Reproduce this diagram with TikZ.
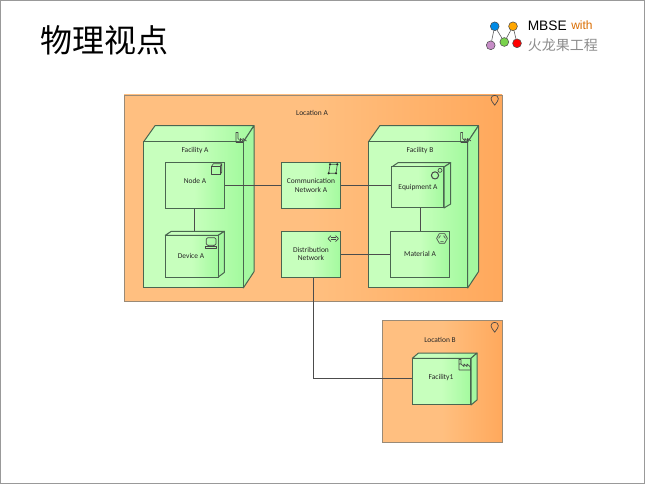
\documentclass[tikz,border=0pt]{standalone}
\usepackage{fontspec}
\setmainfont{Carlito}
\newfontfamily\cjkfont{Noto Sans CJK SC}
\newfontfamily\logofont{Liberation Sans}
\pgfdeclarehorizontalshading{orangeface}{100bp}{rgb(0bp)=(1,.75,.5); rgb(50bp)=(1,.75,.5); rgb(75bp)=(1,.66,.36); rgb(100bp)=(1,.66,.36)}
\pgfdeclarehorizontalshading{greenface}{100bp}{rgb(0bp)=(.78,1,.74); rgb(50bp)=(.78,1,.74); rgb(75bp)=(.64,.98,.62); rgb(100bp)=(.64,.98,.62)}
\definecolor{edgeC}{HTML}{4A6650}
\definecolor{sideC}{HTML}{A4F8A0}
\definecolor{orangeEdge}{HTML}{9A8A76}
\tikzset{
  x=0.75pt,y=-0.75pt,
  site/.style={rectangle,draw=orangeEdge,line width=0.6pt,inner sep=0pt,shade,shading=orangeface},
  face/.style={rectangle,draw=edgeC,line width=0.75pt,inner sep=0pt,shade,shading=greenface},
  depth/.style={draw=edgeC,line width=0.75pt,fill=sideC,line join=round},
  topface/.style={draw=edgeC,line width=0.75pt,shade,shading=greenface,line join=round},
  wire/.style={draw=black!70,line width=0.6pt},
  glyph/.style={draw=black!72,line width=0.5pt,line join=round},
  caption/.style={inner sep=0pt,align=center,font=\fontsize{5.6}{6.3}\selectfont,text=black!85},
  dot/.style={circle,draw=black!70,line width=0.4pt,inner sep=0pt,minimum size=6.6pt},
  link/.style={draw=black!65,line width=0.45pt},
}
\begin{document}
\begin{tikzpicture}
\useasboundingbox (0,0) rectangle (645,484);
\draw[black!40,line width=0.75pt] (0.5,0.5) rectangle (644.5,483.5);

% title and logo
\node[inner sep=0pt,font=\cjkfont\fontsize{24}{24}\selectfont] (title) at (104,40) {物理视点};
\node[dot,fill=blue!40!cyan!90!black] (lb) at (494.7,26.3) {};
\node[dot,fill=orange!70!yellow] (ly) at (513,26.3) {};
\node[dot,fill=violet!45!white] (lp) at (490.7,45.3) {};
\node[dot,fill=green!50!olive!70!white] (lg) at (504.3,42) {};
\node[dot,fill=red] (lr) at (517,43.3) {};
\draw[link] (lp) -- (lb);\draw[link] (lb) -- (lg);\draw[link] (lg) -- (ly);\draw[link] (ly) -- (lr);
\node[anchor=west,inner sep=0pt,font=\logofont\fontsize{10.3}{12}\selectfont] (mbse) at (527.5,25.7) {MBSE};
\node[anchor=west,inner sep=0pt,font=\logofont\fontsize{9}{12}\selectfont,text=orange!85!black] (with) at (571,25.7) {with};
\node[anchor=west,inner sep=0pt,font=\cjkfont\fontsize{10.5}{12}\selectfont,text=black!45] (huolong) at (527.5,45.5) {火龙果工程};

% locations
\node[site,minimum width=283.5pt,minimum height=154.5pt] (locA) at (313,198) {};
\node[site,minimum width=89.75pt,minimum height=91.5pt] (locB) at (442.15,381.15) {};
\draw[glyph] (494.7,105.2) .. controls (492.5,102) and (491,100.5) .. (491,98.8) .. controls (491,94.2) and (498.4,94.2) .. (498.4,98.8) .. controls (498.4,100.5) and (496.9,102) .. (494.7,105.2) -- cycle;
\draw[glyph] (494.7,332.2) .. controls (492.5,329) and (491,327.5) .. (491,325.8) .. controls (491,321.2) and (498.4,321.2) .. (498.4,325.8) .. controls (498.4,327.5) and (496.9,329) .. (494.7,332.2) -- cycle;

% facility A
\draw[topface] (143.5,142) -- (155,125.7) -- (254,125.7) -- (243.3,142) -- cycle;
\draw[depth] (243.3,142) -- (254,125.7) -- (254,271.7) -- (243.3,288) -- cycle;
\node[face,minimum width=74.85pt,minimum height=109.5pt] (facA) at (193.4,215) {};
% facility B
\draw[topface] (368.3,142) -- (379.8,125.7) -- (478.5,125.7) -- (467.7,142) -- cycle;
\draw[depth] (467.7,142) -- (478.5,125.7) -- (478.5,271.7) -- (467.7,288) -- cycle;
\node[face,minimum width=74.55pt,minimum height=109.5pt] (facB) at (418,215) {};
% facility 1
\draw[topface] (412.3,358.3) -- (418.5,353) -- (477,353) -- (471,358.3) -- cycle;
\draw[depth] (471,358.3) -- (477,353) -- (477,400) -- (471,405) -- cycle;
\node[face,minimum width=44pt,minimum height=35pt] (fac1) at (441.65,381.65) {};

% Node A, Device A
\node[face,minimum width=44.25pt,minimum height=34pt] (nodeA) at (194.8,185.35) {};
\draw[topface] (165.3,235.3) -- (171.3,231.3) -- (224.3,231.3) -- (218.3,235.3) -- cycle;
\draw[depth] (218.3,235.3) -- (224.3,231.3) -- (224.3,272.5) -- (218.3,277) -- cycle;
\node[face,minimum width=39.75pt,minimum height=31.3pt] (device) at (191.8,256.15) {};

% networks
\node[face,minimum width=44.25pt,minimum height=34pt] (comm) at (311.2,185.35) {};
\node[face,minimum width=44.25pt,minimum height=34.3pt] (dist) at (311.2,254.15) {};

% Equipment, Material
\draw[topface] (391.7,167) -- (398,162.7) -- (450.7,162.7) -- (444,167) -- cycle;
\draw[depth] (444,167) -- (450.7,162.7) -- (450.7,204) -- (444,208) -- cycle;
\node[face,minimum width=39.2pt,minimum height=30.75pt] (equip) at (417.85,187.5) {};
\node[face,minimum width=44pt,minimum height=34.3pt] (mat) at (420,254.15) {};

% connectors
\draw[wire] (nodeA.east) -- (comm.west);
\draw[wire] (comm.east) -- (comm.east -| equip.west);
\draw[wire] (dist.east) -- (mat.west);
\draw[wire] (nodeA.south) -- ([yshift=3pt]nodeA.south |- device.north);
\draw[wire] (mat.north) -- (mat.north |- equip.south);
\draw[wire] ([xshift=1.35pt]dist.south) |- ([yshift=2.5pt]fac1.west);

% facility icons
\draw[glyph] (236,142.5) -- (236,132.5) -- (238,132.5) -- (238,138.5) -- (240.5,141) -- (240.5,138.5) -- (243,141) -- (243,138.5) -- (246.5,141);
\draw[glyph] (236,142.5) -- (243.3,142.5);
\draw[glyph] (460.6,142.5) -- (460.6,132.5) -- (462.6,132.5) -- (462.6,138.5) -- (465,141) -- (465,138.5) -- (467.5,141) -- (467.5,138.5) -- (471,141);
\draw[glyph] (460.6,142.5) -- (467.7,142.5);
\draw[glyph] (459,370) -- (459,359) (459,359.5) -- (461,359.5) -- (461,364) -- (464,366.5) -- (464,364) -- (467,366.5) -- (467,364) -- (470,366.5) -- (470.6,370) -- (459,370) (459,364) -- (461,364);
% Node icon
\draw[glyph] (211.7,166.3) rectangle (220.3,174.7);
\draw[glyph] (211.7,166.3) -- (213.3,163.7) -- (221.8,163.7) -- (220.3,166.3) (221.8,163.7) -- (221.8,172) -- (220.3,174.7);
% Device icon
\draw[glyph,rounded corners=1pt] (206.3,237.8) rectangle (216,245.3);
\draw[glyph] (209,245.3) -- (208,246.3) (213.5,245.3) -- (214.5,246.3);
\draw[glyph] (205.7,246.3) rectangle (216.7,248.6);
% Communication icon
\draw[glyph] (330,164.3) -- (337.3,164.3) -- (336,173.3) -- (328.7,173.3) -- cycle;
\fill[black!85] (330,164.3) circle (1.2) (337.3,164.3) circle (1.2) (336,173.3) circle (1.2) (328.7,173.3) circle (1.2);
% Distribution icon
\draw[glyph] (330.5,237.6) -- (336,237.6) (330.5,239.6) -- (336,239.6);
\draw[glyph] (331,235.6) -- (328,238.6) -- (331,241.6) (335.5,235.6) -- (338.5,238.6) -- (335.5,241.6);
% Equipment icon
\draw[glyph,line width=0.75pt] (435,175.4) circle (3.6);
\draw[glyph] (440,170.4) circle (2);
% Material icon
\draw[glyph] (436.6,238.4) -- (439.3,233.6) -- (444.7,233.6) -- (447.4,238.4) -- (444.7,243.2) -- (439.3,243.2) -- cycle;
\draw[glyph] (438.6,238.4) -- (440.4,235.6) (443.6,235.6) -- (445.4,238.4) (440.4,241.4) -- (443.6,241.4);

% labels
\node[caption] (tLocA) at (312,112.5) {Location A};
\node[caption] (tLocB) at (440,339.5) {Location B};
\node[caption] (tFacA) at (195,150.7) {Facility A};
\node[caption] (tFacB) at (420,150.7) {Facility B};
\node[caption] (tFac1) at (441,378) {Facility1};
\node[caption] (tNodeA) at (195,181) {Node A};
\node[caption] (tDevice) at (191,256) {Device A};
\node[caption] (tComm) at (311,185.3) {Communication\\Network A};
\node[caption] (tDist) at (311,254) {Distribution\\Network};
\node[caption] (tEquip) at (418,187.3) {Equipment A};
\node[caption] (tMat) at (420,253.5) {Material A};
\end{tikzpicture}
\end{document}
